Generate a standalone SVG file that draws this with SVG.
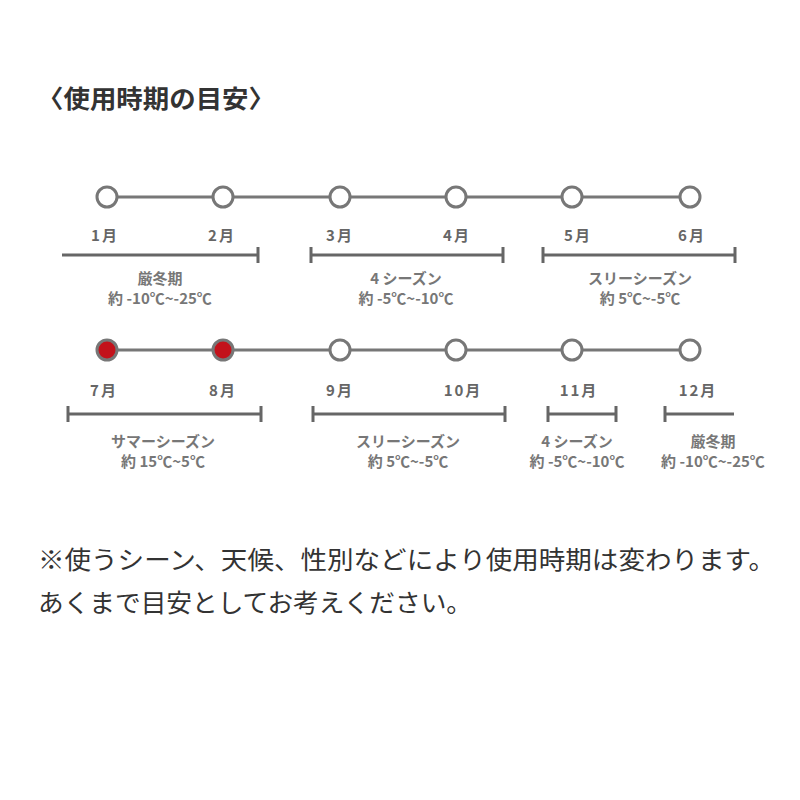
<svg xmlns="http://www.w3.org/2000/svg" width="800" height="800" viewBox="0 0 800 800">
<style>
.bg{fill:#fff}
.ln{stroke:#777;stroke-width:3;fill:none}
.bar{stroke:#666;stroke-width:3;fill:none}
.nd{fill:#fff;stroke:#777;stroke-width:3}
.nd.on{fill:#c3121b}
.mo{font-family:"Noto Sans CJK JP","Noto Sans",sans-serif;font-weight:bold;font-size:15px;fill:#666;text-anchor:middle;letter-spacing:2px}
.lb{font-family:"Noto Sans CJK JP","Noto Sans",sans-serif;font-weight:bold;font-size:15px;fill:#777;text-anchor:middle}
.ttl{font-family:"Noto Sans CJK JP",sans-serif;font-weight:bold;font-size:25px;fill:#333}
.note{font-family:"Noto Sans CJK JP",sans-serif;font-size:25.5px;fill:#333}
</style>
<rect class="bg" width="800" height="800"/>
<text class="ttl" x="37" y="108" textLength="238" lengthAdjust="spacingAndGlyphs">〈使用時期の目安〉</text>
<g id="connectors">
<line class="ln" x1="107" y1="197" x2="690" y2="197"/>
<line class="ln" x1="107" y1="350" x2="690" y2="350"/>
<path class="bar" d="M62 255H258M258 247V263"/>
<path class="bar" d="M311 255H503M311 247V263M503 247V263"/>
<path class="bar" d="M543 255H735M543 247V263M735 247V263"/>
<path class="bar" d="M68 414H261M68 406V422M261 406V422"/>
<path class="bar" d="M313 414H505M313 406V422M505 406V422"/>
<path class="bar" d="M548 414H616M548 406V422M616 406V422"/>
<path class="bar" d="M665 414H734M665 406V422"/>
</g>
<g id="m1"><circle class="nd" cx="107" cy="197" r="10"/><text class="mo" x="105" y="241">1月</text></g>
<g id="m2"><circle class="nd" cx="223" cy="197" r="10"/><text class="mo" x="222" y="241">2月</text></g>
<g id="m3"><circle class="nd" cx="340" cy="197" r="10"/><text class="mo" x="340" y="241">3月</text></g>
<g id="m4"><circle class="nd" cx="456" cy="197" r="10"/><text class="mo" x="457" y="241">4月</text></g>
<g id="m5"><circle class="nd" cx="572" cy="197" r="10"/><text class="mo" x="578" y="241">5月</text></g>
<g id="m6"><circle class="nd" cx="690" cy="197" r="10"/><text class="mo" x="692" y="241">6月</text></g>
<g id="m7"><circle class="nd on" cx="107" cy="350" r="10"/><text class="mo" x="104" y="396">7月</text></g>
<g id="m8"><circle class="nd on" cx="223" cy="350" r="10"/><text class="mo" x="223" y="396">8月</text></g>
<g id="m9"><circle class="nd" cx="340" cy="350" r="10"/><text class="mo" x="340" y="396">9月</text></g>
<g id="m10"><circle class="nd" cx="456" cy="350" r="10"/><text class="mo" x="463" y="396">10月</text></g>
<g id="m11"><circle class="nd" cx="572" cy="350" r="10"/><text class="mo" x="579" y="396">11月</text></g>
<g id="m12"><circle class="nd" cx="690" cy="350" r="10"/><text class="mo" x="698" y="396">12月</text></g>
<g id="s1"><text class="lb" x="160" y="284">厳冬期</text><text class="lb" x="160" y="304">約 -10℃~-25℃</text></g>
<g id="s2"><text class="lb" x="406" y="284">4 シーズン</text><text class="lb" x="406" y="304">約 -5℃~-10℃</text></g>
<g id="s3"><text class="lb" x="640" y="284">スリーシーズン</text><text class="lb" x="640" y="304">約 5℃~-5℃</text></g>
<g id="s4"><text class="lb" x="163" y="447">サマーシーズン</text><text class="lb" x="163" y="467">約 15℃~5℃</text></g>
<g id="s5"><text class="lb" x="408" y="447">スリーシーズン</text><text class="lb" x="408" y="467">約 5℃~-5℃</text></g>
<g id="s6"><text class="lb" x="577" y="447">4 シーズン</text><text class="lb" x="577" y="467">約 -5℃~-10℃</text></g>
<g id="s7"><text class="lb" x="713" y="447">厳冬期</text><text class="lb" x="713" y="467">約 -10℃~-25℃</text></g>
<text class="note" x="38" y="569" textLength="737" lengthAdjust="spacingAndGlyphs">※使うシーン、天候、性別などにより使用時期は変わります。</text>
<text class="note" x="38" y="612" textLength="434" lengthAdjust="spacingAndGlyphs">あくまで目安としてお考えください。</text>
</svg>
